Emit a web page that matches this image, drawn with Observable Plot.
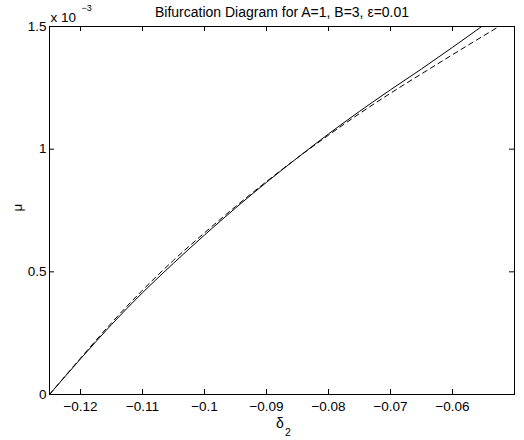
<!DOCTYPE html>
<html><head><meta charset="utf-8">
<script src="https://cdn.jsdelivr.net/npm/d3@7"></script>
<script src="https://cdn.jsdelivr.net/npm/@observablehq/plot@0.6"></script>
<style>
body{margin:0;background:#fff;}
#chart svg{font-family:"Liberation Sans",Arial,sans-serif;}
</style>
</head><body><div id="chart"></div>
<script>
// Solid curve: delta_2 vs mu (mu in units of 1e-3)
const deltaSolid = [-0.125,-0.12,-0.115,-0.11,-0.105,-0.1,-0.095,-0.09,-0.085,-0.08,-0.075,-0.07,-0.065,-0.06,-0.0553];
const muSolid    = [0,0.145,0.285,0.415,0.535,0.65,0.76,0.865,0.965,1.062,1.154,1.242,1.327,1.415,1.5];
// Dashed curve
const deltaDashed = [-0.125,-0.12,-0.115,-0.11,-0.105,-0.1,-0.095,-0.09,-0.085,-0.08,-0.075,-0.07,-0.065,-0.06,-0.055,-0.0525];
const muDashed    = [0,0.148,0.292,0.425,0.547,0.659,0.766,0.868,0.965,1.057,1.145,1.228,1.307,1.385,1.462,1.5];
const xTicks = [-0.12,-0.11,-0.1,-0.09,-0.08,-0.07,-0.06];
const yTicks = [0,0.5,1,1.5];
const titleText = "Bifurcation Diagram for A=1, B=3, \u03b5=0.01";

const solid = deltaSolid.map((d,i)=>({x:d,y:muSolid[i]}));
const dashed = deltaDashed.map((d,i)=>({x:d,y:muDashed[i]}));

const W=524,H=440,mL=49,mR=10,mT=26,mB=46;
const innerW=W-mL-mR, innerH=H-mT-mB, tk=5;
const fmtX = d => d.toString().replace("-","\u2212");

const chart = Plot.plot({
  width:W,height:H,
  marginLeft:mL,marginRight:mR,marginTop:mT,marginBottom:mB,
  style:{fontSize:"13.5px",fontFamily:"Liberation Sans, Arial, sans-serif",background:"#fff",color:"#000"},
  x:{domain:[-0.125,-0.05]},
  y:{domain:[0,1.5]},
  marks:[
    Plot.axisX({ticks:xTicks,tickSize:0,tickPadding:7,tickFormat:fmtX,label:null,fontSize:13.5}),
    Plot.axisY({ticks:yTicks,tickSize:0,tickPadding:3,tickFormat:d=>String(d),label:null,fontSize:13.5}),
    Plot.tickX(xTicks,{x:d=>d,insetTop:innerH-tk,stroke:"#000"}),
    Plot.tickX(xTicks,{x:d=>d,insetBottom:innerH-tk,stroke:"#000"}),
    Plot.tickY(yTicks,{y:d=>d,insetRight:innerW-tk,stroke:"#000"}),
    Plot.tickY(yTicks,{y:d=>d,insetLeft:innerW-tk,stroke:"#000"}),
    Plot.line(dashed,{x:"x",y:"y",stroke:"#000",strokeWidth:1,strokeDasharray:"5,4",curve:"monotone-x"}),
    Plot.line(solid,{x:"x",y:"y",stroke:"#000",strokeWidth:1,curve:"monotone-x"}),
    Plot.frame({stroke:"#000"}),
    Plot.text([titleText],{frameAnchor:"top",lineAnchor:"middle",dy:-14,fontSize:14,fill:"#000"}),
    Plot.text(["x 10"],{frameAnchor:"top-left",lineAnchor:"middle",textAnchor:"start",dx:1,dy:-9,fontSize:13.5,fill:"#000"}),
    Plot.text(["\u22123"],{frameAnchor:"top-left",lineAnchor:"middle",textAnchor:"start",dx:32,dy:-18,fontSize:9,fill:"#000"}),
    Plot.text(["\u03bc"],{frameAnchor:"left",lineAnchor:"middle",dx:-32,dy:1,rotate:-90,fontSize:13.5,fill:"#000"}),
    Plot.text(["\u03b4"],{frameAnchor:"bottom",lineAnchor:"middle",dy:29,dx:-2,fontSize:14,fill:"#000"}),
    Plot.text(["2"],{frameAnchor:"bottom",lineAnchor:"middle",dy:38,dx:6,fontSize:10.5,fill:"#000"})
  ]
});
document.getElementById("chart").appendChild(chart);
</script>
</body></html>
